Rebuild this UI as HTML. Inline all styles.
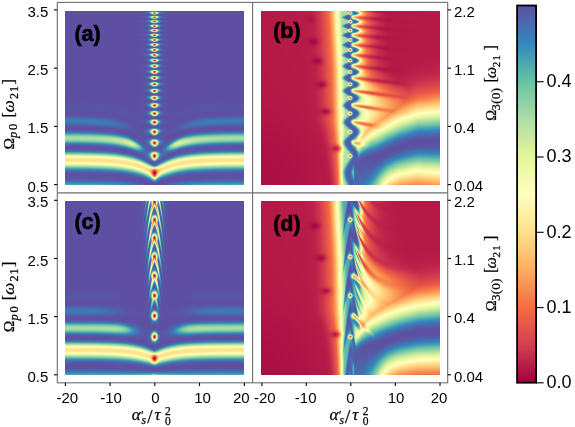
<!DOCTYPE html>
<html><head><meta charset="utf-8"><style>
html,body{margin:0;padding:0;background:#fff;width:575px;height:427px;overflow:hidden}
#wrap{position:relative;width:575px;height:427px}
canvas{position:absolute;display:block}
svg{position:absolute;left:0;top:0}
.t{font-family:"Liberation Sans",sans-serif;font-size:15px;fill:#000}
.m{font-family:"Liberation Serif",serif;font-size:16px;fill:#000;stroke:#000;stroke-width:0.25}
.pl{font-family:"Liberation Sans",sans-serif;font-size:21.5px;font-weight:bold;fill:#000;stroke:#000;stroke-width:0.6}
</style></head><body><div id="wrap">
<canvas id="ca" width="179" height="174" style="background:linear-gradient(to bottom,#5e4fa2 0%,#5e4fa2 52%,#4f64b0 62%,#5e4fa2 67%,#9dd5a4 73%,#5e4fa2 79%,#fee08b 86%,#5e4fa2 94%,#66c2a5 100%);left:65px;top:10.6px;width:179px;height:174px"></canvas>
<canvas id="cb" width="179" height="174" style="background:linear-gradient(to right,#b2183f 0%,#b81d45 28%,#f46d43 37%,#ffffbf 43%,#5e4fa2 48%,#fdae61 55%,#d53e4f 65%,#b2183f 80%);left:261px;top:10.6px;width:179px;height:174px"></canvas>
<canvas id="cc" width="179" height="174" style="background:linear-gradient(to bottom,#5e4fa2 0%,#5e4fa2 52%,#4f64b0 62%,#5e4fa2 67%,#9dd5a4 73%,#5e4fa2 79%,#fee08b 86%,#5e4fa2 94%,#66c2a5 100%);left:65px;top:200.8px;width:179px;height:174px"></canvas>
<canvas id="cd" width="179" height="174" style="background:linear-gradient(to right,#b2183f 0%,#b81d45 28%,#f46d43 37%,#ffffbf 43%,#5e4fa2 48%,#fdae61 55%,#d53e4f 65%,#b2183f 80%);left:261px;top:200.8px;width:179px;height:174px"></canvas>
<svg width="575" height="427" viewBox="0 0 575 427">
<defs>
<linearGradient id="spec" x1="0" y1="1" x2="0" y2="0">
<stop offset="0" stop-color="#9e0142"/><stop offset="0.1" stop-color="#d53e4f"/><stop offset="0.2" stop-color="#f46d43"/><stop offset="0.3" stop-color="#fdae61"/><stop offset="0.4" stop-color="#fee08b"/><stop offset="0.5" stop-color="#ffffbf"/><stop offset="0.6" stop-color="#e6f598"/><stop offset="0.7" stop-color="#abdda4"/><stop offset="0.8" stop-color="#66c2a5"/><stop offset="0.9" stop-color="#3288bd"/><stop offset="1" stop-color="#5e4fa2"/>
</linearGradient>
</defs>
<!-- frames -->
<g stroke="#6e6e6e" stroke-width="1.1" fill="none">
<rect x="57.3" y="2.4" width="390.4" height="380.4"/>
<line x1="252.6" y1="2.4" x2="252.6" y2="382.8"/>
<line x1="57.3" y1="192.9" x2="447.7" y2="192.9"/>
</g>
<!-- ticks -->
<g stroke="#000" stroke-width="1.1">
<line x1="54" y1="9.9" x2="57.3" y2="9.9"/><line x1="54" y1="68.2" x2="57.3" y2="68.2"/><line x1="54" y1="126.4" x2="57.3" y2="126.4"/><line x1="54" y1="184.6" x2="57.3" y2="184.6"/>
<line x1="54" y1="200.3" x2="57.3" y2="200.3"/><line x1="54" y1="258.5" x2="57.3" y2="258.5"/><line x1="54" y1="316.6" x2="57.3" y2="316.6"/><line x1="54" y1="374.8" x2="57.3" y2="374.8"/>
<line x1="447.7" y1="9.9" x2="451" y2="9.9"/><line x1="447.7" y1="68.2" x2="451" y2="68.2"/><line x1="447.7" y1="126.4" x2="451" y2="126.4"/><line x1="447.7" y1="184.6" x2="451" y2="184.6"/>
<line x1="447.7" y1="200.3" x2="451" y2="200.3"/><line x1="447.7" y1="258.5" x2="451" y2="258.5"/><line x1="447.7" y1="316.6" x2="451" y2="316.6"/><line x1="447.7" y1="374.8" x2="451" y2="374.8"/>
<line x1="65.4" y1="382.8" x2="65.4" y2="386"/><line x1="110.1" y1="382.8" x2="110.1" y2="386"/><line x1="154.8" y1="382.8" x2="154.8" y2="386"/><line x1="199.5" y1="382.8" x2="199.5" y2="386"/><line x1="244.4" y1="382.8" x2="244.4" y2="386"/>
<line x1="261.9" y1="382.8" x2="261.9" y2="386"/><line x1="306.3" y1="382.8" x2="306.3" y2="386"/><line x1="350.8" y1="382.8" x2="350.8" y2="386"/><line x1="395.4" y1="382.8" x2="395.4" y2="386"/><line x1="440" y1="382.8" x2="440" y2="386"/>
<line x1="536" y1="382.8" x2="543.7" y2="382.8"/><line x1="536" y1="307.6" x2="543.7" y2="307.6"/><line x1="536" y1="232.3" x2="543.7" y2="232.3"/><line x1="536" y1="157" x2="543.7" y2="157"/><line x1="536" y1="81.7" x2="543.7" y2="81.7"/>
</g>
<!-- colorbar -->
<rect x="517.1" y="5.5" width="19" height="377.2" fill="url(#spec)" stroke="#000" stroke-width="1.8"/>
<!-- tick labels -->
<g class="t" text-anchor="end">
<text x="48.4" y="16.9">3.5</text><text x="48.4" y="75.1">2.5</text><text x="48.4" y="133.4">1.5</text><text x="48.4" y="191.6">0.5</text>
<text x="48.4" y="207.3">3.5</text><text x="48.4" y="265.5">2.5</text><text x="48.4" y="323.6">1.5</text><text x="48.4" y="381.8">0.5</text>
</g>
<g class="t">
<text x="454" y="16.7">2.2</text><text x="454" y="74.9">1.1</text><text x="454" y="133.2">0.4</text><text x="454" y="191.4">0.04</text>
<text x="454" y="207.1">2.2</text><text x="454" y="265.3">1.1</text><text x="454" y="323.4">0.4</text><text x="454" y="381.6">0.04</text>
</g>
<g class="t" style="font-size:18px">
<text x="546.6" y="388">0.0</text><text x="546.6" y="312.8">0.1</text><text x="546.6" y="237.6">0.2</text><text x="546.6" y="162.4">0.3</text><text x="546.6" y="87.1">0.4</text>
</g>
<g class="t" text-anchor="middle">
<text x="67.3" y="402.6">-20</text><text x="111" y="402.6">-10</text><text x="155.5" y="402.6">0</text><text x="202.6" y="402.6">10</text><text x="241.3" y="402.6">20</text>
<text x="264.8" y="402.6">-20</text><text x="305.7" y="402.6">-10</text><text x="350.4" y="402.6">0</text><text x="396" y="402.6">10</text><text x="439" y="402.6">20</text>
</g>
<!-- panel labels -->
<text class="pl" x="74.4" y="41.2">(a)</text>
<text class="pl" x="273.2" y="38">(b)</text>
<text class="pl" x="74.4" y="229.2">(c)</text>
<text class="pl" x="273.2" y="231.4">(d)</text>
<!-- axis labels -->
<g class="m">
<g transform="translate(13.7,149.6) rotate(-90)">
<text x="0" y="0" font-size="15.5">Ω</text><text x="11.6" y="3.7" font-size="12.5" font-style="italic">p</text><text x="19.6" y="3.7" font-size="12.5">0</text>
<text x="32" y="0" font-size="16">[</text><text x="37.4" y="0" font-size="17" font-style="italic">ω</text><text x="50.6" y="3.9" font-size="12">2</text><text x="57.6" y="3.9" font-size="12">1</text><text x="65.2" y="0" font-size="16">]</text></g><g transform="translate(13.9,332.2) rotate(-90)">
<text x="0" y="0" font-size="15.5">Ω</text><text x="11.6" y="3.7" font-size="12.5" font-style="italic">p</text><text x="19.6" y="3.7" font-size="12.5">0</text>
<text x="32" y="0" font-size="16">[</text><text x="37.4" y="0" font-size="17" font-style="italic">ω</text><text x="50.6" y="3.9" font-size="12">2</text><text x="57.6" y="3.9" font-size="12">1</text><text x="65.2" y="0" font-size="16">]</text></g><g transform="translate(496,120.8) rotate(-90)">
<text x="0" y="0" font-size="14.5">Ω</text><text x="10.4" y="3.8" font-size="12.5">3</text><text x="17.0" y="3.8" font-size="13.5">(0)</text>
<text x="38.2" y="0" font-size="16">[</text><text x="42.6" y="0" font-size="16" font-style="italic">ω</text><text x="53.6" y="3.5" font-size="11">2</text><text x="60.4" y="3.5" font-size="11">1</text><text x="70.2" y="0" font-size="16">]</text></g><g transform="translate(496,311.2) rotate(-90)">
<text x="0" y="0" font-size="14.5">Ω</text><text x="10.4" y="3.8" font-size="12.5">3</text><text x="17.0" y="3.8" font-size="13.5">(0)</text>
<text x="38.2" y="0" font-size="16">[</text><text x="42.6" y="0" font-size="16" font-style="italic">ω</text><text x="53.6" y="3.5" font-size="11">2</text><text x="60.4" y="3.5" font-size="11">1</text><text x="70.2" y="0" font-size="16">]</text></g><g transform="translate(131.8,420.4)">
<text x="0" y="0" font-size="17" font-style="italic">α</text><text x="9.2" y="-1.2" font-size="13">′</text><text x="9.8" y="3.6" font-size="11.5" font-style="italic">s</text>
<text x="15.4" y="2.6" font-size="19">/</text><text x="22.6" y="0" font-size="17" font-style="italic">τ</text><text x="33.2" y="-5.4" font-size="11.5">2</text><text x="33.2" y="4.3" font-size="11.5">0</text></g><g transform="translate(329.6,420.4)">
<text x="0" y="0" font-size="17" font-style="italic">α</text><text x="9.2" y="-1.2" font-size="13">′</text><text x="9.8" y="3.6" font-size="11.5" font-style="italic">s</text>
<text x="15.4" y="2.6" font-size="19">/</text><text x="22.6" y="0" font-size="17" font-style="italic">τ</text><text x="33.2" y="-5.4" font-size="11.5">2</text><text x="33.2" y="4.3" font-size="11.5">0</text></g>
</g>
</svg>
</div>
<script>
(function(){
var S=[[158,1,66],[213,62,79],[244,109,67],[253,174,97],[254,224,139],[255,255,191],[230,245,152],[171,221,164],[102,194,165],[50,136,189],[94,79,162]];
function cmap(v){ // v in [0,0.5]
  var t=v/0.5; if(t<0)t=0; if(t>1)t=1; var f=t*10, i=Math.floor(f); if(i>=10)i=9; var r=f-i;
  var a=S[i],b=S[i+1]; return [a[0]+(b[0]-a[0])*r,a[1]+(b[1]-a[1])*r,a[2]+(b[2]-a[2])*r];
}
function draw(id,fn){
  var c=document.getElementById(id),ctx=c.getContext('2d'),W=c.width,H=c.height;
  var img=ctx.createImageData(W,H),d=img.data,SS=3;
  for(var j=0;j<H;j++)for(var i=0;i<W;i++){
    var R=0,G=0,B=0;
    for(var sj=0;sj<SS;sj++)for(var si=0;si<SS;si++){
      var x=(i+(si+0.5)/SS)/W, y=(j+(sj+0.5)/SS)/H;
      var u=-20+40*x, w=3.5-3*y;
      var col=cmap(fn(u,w)); R+=col[0];G+=col[1];B+=col[2];
    }
    var k=(j*W+i)*4,n=SS*SS; d[k]=R/n;d[k+1]=G/n;d[k+2]=B/n;d[k+3]=255;
  }
  ctx.putImageData(img,0,0);
}
function fa(u,w){
  var au=Math.abs(u), e=1-Math.exp(-au/3.5);
  var phi=w*w*(2*(1-e)+e/0.875);
  var c=Math.cos(Math.PI*phi), c2=Math.pow(c*c,1.35);
  var Ae=(w<0.9)?0.3:0.3*Math.exp(-Math.pow((w-0.9)/0.5,2));
  var sg=3.8+5.5*Math.min(1,Math.max(0,phi-2.0)), ug=u/sg; var hb=1-0.97*Math.exp(-ug*ug*ug*ug)*Math.min(1,Math.max(0,(phi-1.3)/0.4));
  var Bb=Ae*hb*c2;
  var ph=2*w*w, n=Math.round(ph), d=ph-n;
  var p=1.5/Math.pow(w,0.25), cd=Math.cos(Math.PI*d);
  var G=Math.pow(cd*cd,p);
  var a=0.85*(1+0.8*d);
  var L=1/(1+(u/a)*(u/a)); L=L*L;
  var Bd=0.5*L*G;
  var B=Bb+Bd-Bb*Bd/0.5;
  return 0.5-B;
}
function interp(T,x){
  if(x<=T[0][0])return T[0][1];
  for(var i=1;i<T.length;i++){ if(x<=T[i][0]){var a=T[i-1],b=T[i],t=(x-a[0])/(b[0]-a[0]); return a[1]+(b[1]-a[1])*t;} }
  return T[T.length-1][1];
}
var TL=[[-20,0.02],[-10,0.022],[-7.8,0.026],[-6.2,0.046],[-5,0.075],[-4.2,0.1],[-3.4,0.15],[-2.8,0.215],[-2.4,0.25],[-1.8,0.3],[-1.2,0.36],[-0.6,0.4],[0,0.4]];
var TW=[[0,0.8],[1,0.85],[2.5,0.93],[4,0.96],[6,0.99],[8,1.06],[10.9,1.15],[15,1.235],[20,1.24]];
var SP=[[-8.8,3.35,0.4],[-8.3,2.976,0.8],[-7.45,2.64,0.8],[-6.4,2.235,0.8],[-5.47,1.766,0.8],[-3.15,1.129,0.8]];
function fb(u,w){
  var w2=w*w, psi=2*w2;
  var u25=-2.4+(w>2.5?0.67:0.2)*(2.5-w), kk=1+1.1*Math.max(0,1.6-w);
  var VL=interp(TL,-2.4+(u-u25)*kk);
  var tau=1.9+6*Math.exp(-Math.pow((w-1.85)/0.35,2));
  var VR=0.015+0.335*Math.exp(-Math.max(0,u-1.2)/tau);
  var V=Math.min(VL,VR);
  // snake
  var uc=0.15+0.1*Math.max(0,2.5-w)+0.8*Math.cos(Math.PI*psi);
  var S=Math.exp(-Math.pow(Math.abs(u-uc)/1.1,3));
  V=V+(0.5-V)*S;
  // fingers
  var pf=psi+0.088*(u-1), k=2*Math.round((pf-1)/2)+1, dp=pf-k;
  var dy=dp/(4*w)*58, dx=Math.max(0,0.7-u)/0.2235;
  var Lf=Math.min(9,Math.max(1,(w-0.95)*9));
  var Bf=Math.exp(-(dx*dx+dy*dy)/4.5)*(0.92-0.35*Math.exp(-Math.max(0,u-0.7)/1.5))*Math.exp(-Math.pow(Math.max(0,u-0.7)/Lf,2));
  if(w<0.85)Bf*=0.1;
  V=V*(1-Bf)+0.03*Bf;
  V*=1-0.45*Math.exp(-dy*dy/5)*Math.min(1,Math.max(0,(u-3)/3))*Math.min(1,Math.max(0,(w-1.9)/0.4));
  if(u>-0.3){
    var wc=interp(TW,u);
    var sm=Math.min(1,Math.max(0,(u+0.3)/1.2));
    var dw=w-wc, sd=(dw>0)?(0.46+0.008*u-0.16*Math.exp(-Math.pow((u-1)/3,2))):(0.46+0.008*u+1.5*Math.exp(-Math.pow((u-1)/4,2)));
    var Vd=(0.02+0.48*Math.exp(-(dw/sd)*(dw/sd))*sm)*(1-0.4*Bf);
    if(Vd>V)V=Vd;
  }
  // dots
  var kd=2*Math.round(psi/2), dd=psi-kd;
  dy=dd/(4*w)*58; dx=u/0.2235;
  var Bd=Math.exp(-(dx*dx+dy*dy)/2.4);
  V=V*(1-Bd)+0.05*Bd;
  V*=1-0.45*Math.exp(-Math.pow((u+20)/12,2)-Math.pow((w-0.5)/1.2,2));
  for(var i=0;i<SP.length;i++){
    var ex=(u-SP[i][0])/0.2235, ey=(w-SP[i][1])*58;
    V*=1-SP[i][2]*Math.exp(-(ex*ex/28+ey*ey/12));
  }
  return V;
}
function fc(u,w){
  var au=Math.abs(u), e=1-Math.exp(-au/3.5);
  var pc=0.1194*w*w+2.4564*w-1.0077, pe=w*w/0.875, dpc=0.239*w+2.456;
  var phi=pc*(1-e)+pe*e;
  var c=Math.cos(Math.PI*phi), c2=Math.pow(c*c,1.35);
  var Ae=(w<0.9)?0.3:0.3*Math.exp(-Math.pow((w-0.9)/0.5,2));
  var sg=6+4*Math.min(1,Math.max(0,phi-2.0)), ug=u/sg; var hb=1-0.97*Math.exp(-ug*ug*ug*ug)*Math.min(1,Math.max(0,(phi-1.3)/0.4));
  var Bb=Ae*hb*c2;
  // chevron arms
  var pch=pc+0.853*Math.pow(au,1.4), n=Math.round(pch), d=pch-n;
  var cd=Math.cos(Math.PI*d), G=Math.pow(cd*cd,1.6);
  var su=0.35+0.33*w;
  var Ba=0.42*Math.exp(-(u/su)*(u/su))*G*Math.min(1,Math.max(0,(w-1.3)/1.0));
  // dots
  var nd=Math.round(pc), dd=pc-nd;
  var dy=dd/dpc*58, dx=u/0.2235;
  var Bd=0.5*Math.exp(-(dx*dx/7+dy*dy/14));
  var B=Math.max(Ba,Bd);
  B=B+Bb-B*Bb/0.5;
  return 0.5-B;
}
var SPD=[[-7.9,3.07,0.8],[-6.59,2.517,0.8],[-5.47,1.948,0.8],[-3.33,1.2,0.8]];
var TLD=[[-20,0.02],[-10,0.022],[-7.8,0.026],[-6.2,0.046],[-5,0.075],[-4.2,0.1],[-3.4,0.15],[-2.8,0.215],[-2.4,0.25],[-1.9,0.3],[-1.4,0.37],[-0.9,0.42],[0,0.42]];
var TWD=[[0,0.82],[1,0.87],[2.5,0.95],[4,0.99],[6,1.03],[8,1.09],[10.9,1.16],[15,1.23],[20,1.26]];
function fd(u,w){
  var pc=0.1194*w*w+2.4564*w-1.0077, dpc=0.239*w+2.456;
  var g=3.2*(1-Math.exp(-Math.max(0,u)/3.3));
  var h=(u<0)?0.853*Math.pow(-u,1.4):g;
  var psi=pc+h;
  var u25=-2.4+(w>2.5?0.67:0.2)*(2.5-w), kk=1+1.1*Math.max(0,1.6-w);
  var VL=interp(TLD,-2.4+(u-u25)*kk);
  var tau=1.8+6*Math.exp(-Math.pow((w-1.9)/0.4,2));
  var VR=0.02+0.4*Math.exp(-Math.max(0,u-0.5)/tau);
  // arcs modulate the tail
  var pf=pc+g, ca=Math.cos(Math.PI*(pf-0.5)), m=ca*ca; m=m*m;
  var fa2=Math.exp(-Math.pow(Math.max(0,u-1)/9,2))*Math.min(1,Math.max(0,(u-0.3)/0.8))*(1-0.85*Math.exp(-Math.pow(Math.max(0,u-1.5)/4,2)*0)*Math.min(1,Math.max(0,(2.4-w)/0.6)));
  VR=VR*(1-0.8*m*fa2)+0.02*0.8*m*fa2;
  var V=Math.min(VL,VR);
  // snake
  var uc=0.35+0.9*Math.cos(Math.PI*psi);
  var S=Math.exp(-Math.pow(Math.abs(u-uc)/1.0,3));
  V=V+(0.5-V)*S;
  // thin stripes right of the core
  var st=Math.cos(2*Math.PI*(pf+0.25)); st=st*st; st=st*st;
  var env=Math.exp(-Math.pow((u-1.6)/1.0,2))*Math.min(1,Math.max(0,(w-1.3)/0.5));
  V=V+(0.48-V)*0.9*env*st*(1-S);
  if(u>-0.3){
    var wc=interp(TWD,u);
    var sm=Math.min(1,Math.max(0,(u+0.3)/1.2));
    var dw=w-wc, sd=(dw>0)?(0.49+0.004*u-0.16*Math.exp(-Math.pow((u-1)/3,2))):(0.49+0.004*u+1.5*Math.exp(-Math.pow((u-1)/4,2)));
    var Vd=0.02+0.48*Math.exp(-(dw/sd)*(dw/sd))*sm;
    if(Vd>V)V=Vd;
  }
  // fingers at odd pc (lower part)
  var pf2=pc+0.22*Math.max(0,u-0.8), kf=2*Math.round((pf2-1)/2)+1, dpf=pf2-kf;
  var fy=dpf/dpc*58, fx=Math.max(0,0.8-u)/0.2235;
  var Bf=Math.exp(-(fx*fx+fy*fy)/7)*0.85*Math.exp(-Math.pow(Math.max(0,u-0.8)/2.8,2))*Math.min(1,Math.max(0,(2.6-w)/0.4))*Math.min(1,Math.max(0,(w-1.0)/0.3));
  V=V*(1-Bf)+0.06*Bf;
  // dots at even pc
  var kd=2*Math.round(pc/2), dd=pc-kd;
  var dy=dd/dpc*58, dx=u/0.2235;
  var Bd=Math.exp(-(dx*dx+dy*dy)/3.4);
  V=V*(1-Bd)+0.05*Bd;
  V*=1-0.45*Math.exp(-Math.pow((u+20)/12,2)-Math.pow((w-0.5)/1.2,2));
  for(var i=0;i<SPD.length;i++){
    var ex=(u-SPD[i][0])/0.2235, ey=(w-SPD[i][1])*58;
    V*=1-SPD[i][2]*Math.exp(-(ex*ex/28+ey*ey/12));
  }
  return V;
}
draw('ca',fa);draw('cb',fb);draw('cc',fc);draw('cd',fd);
})();
</script>
</body></html>
